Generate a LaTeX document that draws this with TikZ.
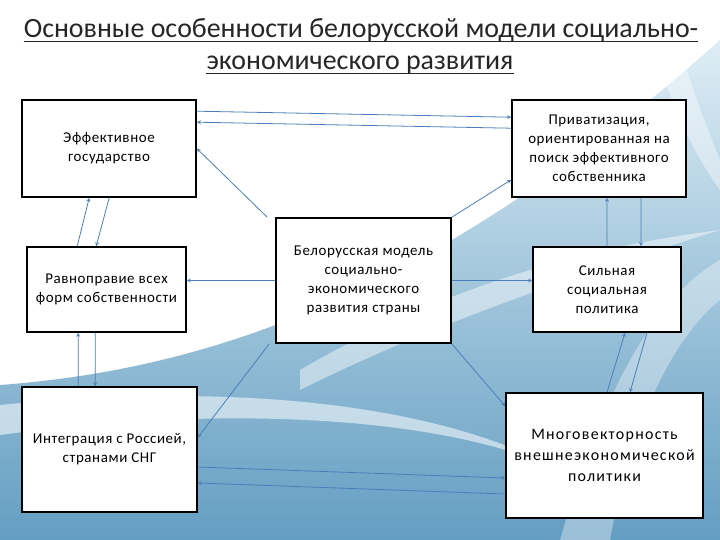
\documentclass[tikz,border=0pt]{standalone}
\usepackage{fontspec}
\setmainfont{Carlito}
\newfontfamily\boxfont[LetterSpace=4]{Carlito}
\newfontfamily\wideboxfont[LetterSpace=8]{Carlito}
\usetikzlibrary{positioning}

\definecolor{linkblue}{RGB}{74,126,187}
\definecolor{slideblue}{RGB}{100,158,194}
\definecolor{paleblue}{RGB}{222,237,245}

\tikzset{
  box/.style={draw=black,line width=1.6pt,fill=white,align=center,inner sep=2pt,
    font=\boxfont\fontsize{15}{19}\selectfont},
  titletext/.style={inner sep=0pt,anchor=base,text=black!85,
    font=\fontsize{28}{32}\selectfont},
  link/.style={draw=linkblue,line width=0.8pt,-stealth},
}

\begin{document}
\begin{tikzpicture}[x=1bp,y=-1bp]
      \useasboundingbox (0,0) rectangle (720,540);

      %%%%%%%%%%%%%%%%%%%%%%%%%%%%%%%%%%%%%%%%%%%%%%%%%%%%%%%%%%%%%%%%%%%%%%%%%%%
      %%%%  Background
      \fill[white] (0,0) rectangle (720,540);
      \shade[top color=paleblue,bottom color=slideblue]
        (0,540) -- (0,385) .. controls (200,370) and (430,300) .. (720,40) -- (720,540) -- cycle;
      \fill[white,opacity=.55]
        (0,405) .. controls (200,385) and (420,395) .. (560,470)
        .. controls (440,415) and (220,405) .. (0,435) -- cycle;
      \fill[white,opacity=.45]
        (300,370) .. controls (420,300) and (560,250) .. (720,230)
        .. controls (560,280) and (420,330) .. (300,390) -- cycle;
      \fill[white,opacity=.35]
        (560,540) .. controls (600,400) and (650,300) .. (720,260)
        -- (720,300) .. controls (670,340) and (630,430) .. (610,540) -- cycle;
      \fill[white,opacity=.4]
        (640,0) .. controls (660,80) and (690,150) .. (720,190)
        -- (720,160) .. controls (700,110) and (680,60) .. (670,0) -- cycle;

      %%%%%%%%%%%%%%%%%%%%%%%%%%%%%%%%%%%%%%%%%%%%%%%%%%%%%%%%%%%%%%%%%%%%%%%%%%%
      %%%%  Title
      \node[titletext] (title) at (361,38)
        {Основные особенности белорусской модели социально-};
      \node[titletext] (subtitle) at (360,70)
        {экономического развития};
      \draw[line width=1.7pt,black!85] ([yshift=-3.5bp]title.base west) -- ([yshift=-3.5bp]title.base east);
      \draw[line width=1.7pt,black!85] ([yshift=-3.5bp]subtitle.base west) -- ([yshift=-3.5bp]subtitle.base east);

      %%%%%%%%%%%%%%%%%%%%%%%%%%%%%%%%%%%%%%%%%%%%%%%%%%%%%%%%%%%%%%%%%%%%%%%%%%%
      %%%%  Boxes
      \node[box,minimum width=174bp,minimum height=97bp] (eff) at (109,148.5)
        {Эффективное\\государство};
      \node[box,minimum width=174bp,minimum height=97bp] (priv) at (599,148.5)
        {Приватизация,\\ориентированная на\\поиск эффективного\\собственника};
      \node[box,minimum width=159bp,minimum height=85bp] (ravn) at (106.5,289.5)
        {Равноправие всех\\форм собственности};
      \node[box,minimum width=175bp,minimum height=125bp] (bel) at (363.5,280.5)
        {Белорусская модель\\социально-\\экономического\\развития страны};
      \node[box,minimum width=148bp,minimum height=85bp] (sil) at (607,289.5)
        {Сильная\\социальная\\политика};
      \node[box,minimum width=175bp,minimum height=125bp] (integ) at (109.5,449.5)
        {Интеграция с Россией,\\странами СНГ};
      \node[box,minimum width=197bp,minimum height=125bp,
        font=\wideboxfont\fontsize{16}{21.5}\selectfont] (mnog) at (604.5,455.5)
        {Многовекторность\\внешнеэкономической\\политики};

      %%%%%%%%%%%%%%%%%%%%%%%%%%%%%%%%%%%%%%%%%%%%%%%%%%%%%%%%%%%%%%%%%%%%%%%%%%%
      %%%%  Links from the model
      \draw[link] ([xshift=-8bp]bel.north west) -- (eff.east);
      \draw[link] (bel.north east) -- ([yshift=18bp]priv.south west);
      \draw[link] (bel.west) -- ([yshift=9bp]ravn.east);
      \draw[link] (bel.east) -- ([yshift=9bp]sil.west);
      \draw[link] ([xshift=-6bp]bel.south west) -- ([yshift=12bp]integ.east);
      \draw[link] (bel.south east) -- ([yshift=-14bp]mnog.north west);

      %%%%%%%%%%%%%%%%%%%%%%%%%%%%%%%%%%%%%%%%%%%%%%%%%%%%%%%%%%%%%%%%%%%%%%%%%%%
      %%%%  Pairs
      \draw[link] ([yshift=-12bp]eff.north east) -- ([yshift=-18bp]priv.north west);
      \draw[link] ([yshift=-29bp]priv.north west) -- ([yshift=-23bp]eff.north east);

      \draw[link] ([xshift=51bp]ravn.north west) -- ([xshift=68bp]eff.south west);
      \draw[link] ([xshift=88bp]eff.south west) -- ([xshift=70bp]ravn.north west);

      \draw[link] ([xshift=57bp]integ.north west) -- ([xshift=52bp]ravn.south west);
      \draw[link] ([xshift=69bp]ravn.south west) -- ([xshift=74bp]integ.north west);

      \draw[link] (sil.north) -- ([xshift=8bp]priv.south);
      \draw[link] ([xshift=42bp]priv.south) -- ([xshift=34bp]sil.north);

      \draw[link] ([xshift=2.5bp]mnog.north) -- ([xshift=18bp]sil.south);
      \draw[link] ([xshift=40bp]sil.south) -- ([xshift=25.5bp]mnog.north);

      \draw[link] ([yshift=-17.5bp]integ.east) -- ([yshift=-22.5bp]mnog.west);
      \draw[link] ([yshift=-38.5bp]mnog.west) -- ([yshift=-33.5bp]integ.east);
    \end{tikzpicture}
\end{document}
